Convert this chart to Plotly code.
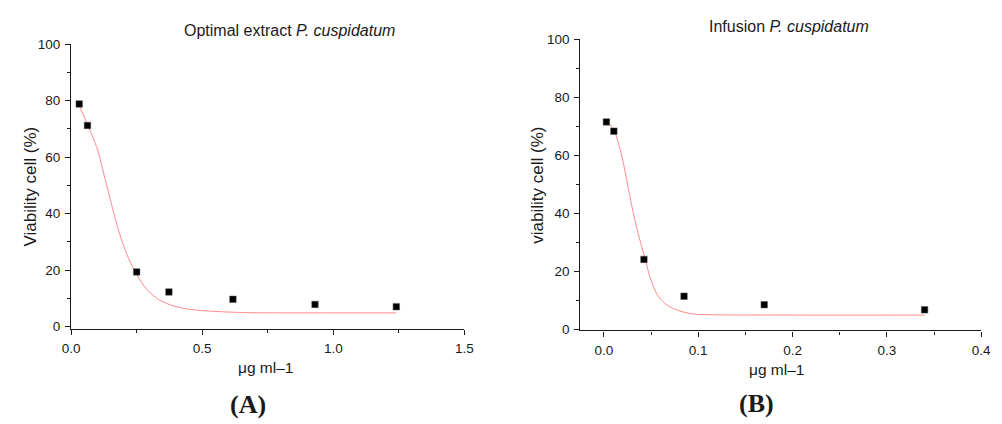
import plotly.graph_objects as go

W, H = 1002, 424

# Optimal extract: measured viability and fitted dose-response curve
conc_a = [0.031, 0.0625, 0.25, 0.373, 0.617, 0.93, 1.24]
viab_a = [78.8, 71.2, 19.4, 12.3, 9.7, 7.9, 7.1]
fit_a_x = [0.031, 0.0625, 0.1, 0.119, 0.144, 0.163, 0.1875, 0.219, 0.25,
           0.2875, 0.3375, 0.4, 0.475, 0.575, 0.6625, 0.8, 1.0, 1.24]
fit_a_y = [78.3, 71.5, 62.9, 56.1, 47.0, 40.1, 32.1, 24.2, 18.5,
           13.3, 9.4, 7.1, 5.9, 5.3, 5.0, 4.9, 4.9, 4.9]

# Infusion: measured viability and fitted dose-response curve
conc_b = [0.0027, 0.0106, 0.0425, 0.085, 0.17, 0.34]
viab_b = [71.5, 68.3, 24.1, 11.4, 8.5, 6.7]
fit_b_x = [0.0027, 0.0111, 0.018, 0.0232, 0.0284, 0.0336, 0.0388, 0.044,
           0.0491, 0.0561, 0.0647, 0.0769, 0.0942, 0.118, 0.2, 0.34]
fit_b_y = [72.0, 68.3, 61.1, 53.3, 44.4, 36.7, 30.0, 23.9,
           17.8, 12.2, 8.9, 6.7, 5.3, 5.0, 4.9, 4.9]

INK = "#1a1a1a"
FIT = "#ff8a8a"
SANS = "Liberation Sans, Arial, sans-serif"
SERIF = "Liberation Serif, Times New Roman, serif"


def fx(p):
    return p / W


def fy(p):
    return 1 - p / H


fig = go.Figure()

for xs, ys, ax in [(fit_a_x, fit_a_y, "x"), (fit_b_x, fit_b_y, "x2")]:
    fig.add_trace(go.Scatter(
        x=xs, y=ys, mode="lines", xaxis=ax, yaxis=ax.replace("x", "y"),
        line=dict(color=FIT, width=1, shape="spline", smoothing=0.8),
        hoverinfo="skip", showlegend=False))

for xs, ys, ax in [(conc_a, viab_a, "x"), (conc_b, viab_b, "x2")]:
    fig.add_trace(go.Scatter(
        x=xs, y=ys, mode="markers", xaxis=ax, yaxis=ax.replace("x", "y"),
        marker=dict(symbol="square", size=6.5, color="black",
                    line=dict(color="#555555", width=0.5)),
        showlegend=False))

axis_common = dict(
    showline=True, linecolor=INK, linewidth=1.3, mirror=False,
    ticks="outside", ticklen=5, tickwidth=1.3, tickcolor=INK,
    showgrid=False, zeroline=False,
    tickfont=dict(family=SANS, size=13.5, color=INK),
)

fig.update_layout(
    width=W, height=H,
    margin=dict(l=0, r=0, t=0, b=0),
    paper_bgcolor="white", plot_bgcolor="white",
    xaxis=dict(axis_common, domain=[fx(63.3), fx(464.3)], anchor="y",
               range=[0, 1.5], tick0=0, dtick=0.5, tickformat=".1f",
               ticklabelstandoff=2,
               minor=dict(ticks="outside", ticklen=3, tickwidth=1.3,
                          tickcolor=INK, dtick=0.25, tick0=0)),
    yaxis=dict(axis_common, domain=[fy(332.7), fy(38.3)], anchor="x",
               range=[-0.7, 100], tick0=0, dtick=20,
               ticklabelstandoff=2,
               minor=dict(ticks="outside", ticklen=3, tickwidth=1.3,
                          tickcolor=INK, dtick=10, tick0=0)),
    xaxis2=dict(axis_common, domain=[fx(582.3), fx(991)], anchor="y2",
                range=[-0.025, 0.4], tick0=0, dtick=0.1, tickformat=".1f",
                ticklabelstandoff=2,
                minor=dict(ticks="outside", ticklen=3, tickwidth=1.3,
                           tickcolor=INK, dtick=0.05, tick0=0)),
    yaxis2=dict(axis_common, domain=[fy(334.5), fy(33.3)], anchor="x2",
                range=[-0.4, 100], tick0=0, dtick=20,
                ticklabelstandoff=2,
                minor=dict(ticks="outside", ticklen=3, tickwidth=1.3,
                           tickcolor=INK, dtick=10, tick0=0)),
)


def label(text, x, y, size, family=SANS, angle=0):
    fig.add_annotation(
        text=text, x=fx(x), y=fy(y), xref="paper", yref="paper",
        xanchor="center", yanchor="middle", showarrow=False, textangle=angle,
        font=dict(family=family, size=size, color=INK))


# Panel titles
label("Optimal extract <i>P. cuspidatum</i>", 286, 24, 16)
label("Infusion <i>P. cuspidatum</i>", 795, 20, 16)

# Axis titles
label("Viability cell (%)", 22, 186, 17, angle=-90)
label("viability cell (%)", 539, 184, 17, angle=-90)
label("μg ml–1", 261, 373, 15.5)
label("μg ml–1", 782, 375, 15.5)

# Panel letters
label("<b>(A)</b>", 244, 411, 26, family=SERIF)
label("<b>(B)</b>", 762, 410, 26, family=SERIF)

fig.write_html("out.html")
